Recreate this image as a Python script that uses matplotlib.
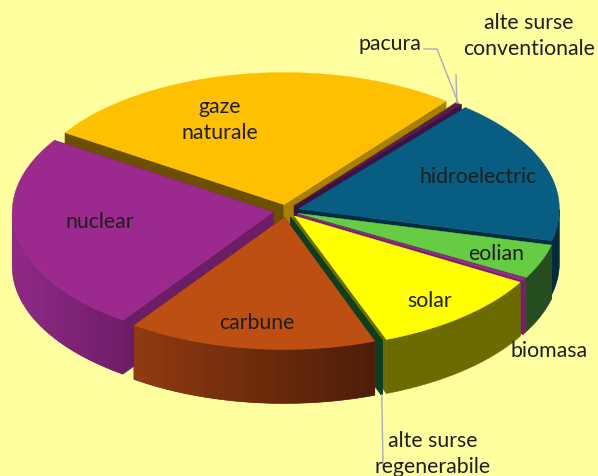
import numpy as np
import matplotlib
matplotlib.use("Agg")
import matplotlib.pyplot as plt
from matplotlib.collections import PolyCollection
from matplotlib.colors import to_rgb

# Slices in clockwise order, starting at the back-left edge of "gaze naturale"
categories = ["gaze naturale", "alte surse conventionale", "pacura", "hidroelectric", "eolian",
              "biomasa", "solar", "alte surse regenerabile", "carbune", "nuclear"]
shares = [26.5, 0.1, 0.3, 17.8, 4.2, 0.3, 10.9, 0.1, 15.4, 24.4]
top_colors = ["#FFC000", "#7A5C00", "#5A1A5C", "#075E82", "#66CC44",
              "#9C2A8E", "#FFFF00", "#0B3F24", "#BE4F12", "#9C2A8E"]
wall_left = ["#8A6800", "#5A4500", "#3E1240", "#002B40", "#264D1F",
             "#7A1F70", "#6B6B00", "#0B3F24", "#8F3A10", "#8E2A86"]
wall_right = ["#8A6800", "#5A4500", "#3E1240", "#002B40", "#264D1F",
              "#7A1F70", "#6B6B00", "#0B3F24", "#4F1E08", "#721D6A"]
radial_start = ["#6B5000", "#5A4500", "#3E1240", "#002B40", "#264D1F",
                "#7A1F70", "#6B6B00", "#0B3F24", "#5A2008", "#6B1D66"]
radial_end = ["#A88000", "#5A4500", "#3E1240", "#002B40", "#264D1F",
              "#7A1F70", "#6B6B00", "#0B3F24", "#5A2008", "#6B1D66"]
paint_order = [0, 1, 2, 3, 9, 4, 5, 6, 7, 8]

BG = "#FFFFA0"
CX, CY, RX, RY, DEPTH = 286.0, 212.0, 261.0, 132.0, 54.0
EX, EY = 13.0, 6.5
START = 147.0

fig = plt.figure(figsize=(5.98, 4.77), dpi=100, facecolor=BG)
ax = fig.add_axes([0, 0, 1, 1])
ax.set_xlim(0, 598)
ax.set_ylim(477, 0)
ax.axis("off")

angles = np.array(shares) / sum(shares) * 360.0
ends = START - np.cumsum(angles)
starts = ends + angles


def mix(a, b, t):
    a, b = np.array(to_rgb(a)), np.array(to_rgb(b))
    return tuple(a + (b - a) * t)


def slice_geom(i):
    mid = np.radians((starts[i] + ends[i]) / 2)
    ax0 = CX + EX * np.cos(mid)
    ay0 = CY - EY * np.sin(mid)
    th = np.radians(np.linspace(starts[i], ends[i], max(3, int(angles[i] * 4) + 2)))
    xs = ax0 + RX * np.cos(th)
    ys = ay0 - RY * np.sin(th)
    return ax0, ay0, xs, ys


z = 1
for i in paint_order:
    ax0, ay0, xs, ys = slice_geom(i)
    # radial walls
    for (ex, ey, col) in ((xs[0], ys[0], radial_start[i]), (xs[-1], ys[-1], radial_end[i])):
        ax.fill([ax0, ex, ex, ax0], [ay0, ey, ey + DEPTH, ay0 + DEPTH],
                color=col, lw=0.4, zorder=z)
    z += 1
    # outer wall: only the part of the rim that faces the viewer
    front = ys >= ay0
    if front.sum() >= 2:
        fx, fy = xs[front], ys[front]
        base = mix(wall_left[i], wall_right[i], 0.5)
        ax.fill(np.r_[fx, fx[::-1]], np.r_[fy, fy[::-1] + DEPTH], color=base, lw=0.4, zorder=z)
        z += 1
        if wall_left[i] != wall_right[i]:
            edges = np.linspace(fx.min(), fx.max(), 25)
            order = np.argsort(fx)
            sx, sy = fx[order], fy[order]
            verts, cols = [], []
            for k in range(len(edges) - 1):
                x0, x1 = edges[k], min(edges[k + 1] + 1.5, edges[-1])
                y0, y1 = np.interp([x0, x1], sx, sy)
                verts.append([(x0, y0), (x1, y1), (x1, y1 + DEPTH), (x0, y0 + DEPTH)])
                cols.append(mix(wall_left[i], wall_right[i], k / (len(edges) - 2)))
            ax.add_collection(PolyCollection(verts, facecolors=cols, edgecolors="none", zorder=z))
            z += 1
    # top face
    ax.fill(np.r_[ax0, xs], np.r_[ay0, ys], color=top_colors[i], lw=0.3, zorder=z)
    z += 1

# leader lines, anchored on the rim of their slices
LEADER = "#A9A9BC"
_, _, px, py = slice_geom(2)
_, _, qx, qy = slice_geom(1)
_, _, rx, ry = slice_geom(7)
ax.plot([424, 437, px[1]], [50, 50, py[1]], color=LEADER, lw=1, zorder=z)
ax.plot([456, qx[1]], [76, qy[1]], color=LEADER, lw=1, zorder=z)
ax.plot([rx[1], 383], [ry[1] + DEPTH, 466], color=LEADER, lw=1, zorder=z)

labels = [("gaze\nnaturale", 220, 120), ("nuclear", 100, 222), ("carbune", 257, 323),
          ("solar", 430, 301), ("eolian", 496, 254), ("hidroelectric", 478, 177),
          ("biomasa", 549, 351), ("alte surse\nregenerabile", 433, 454),
          ("pacura", 390, 44), ("alte surse\nconventionale", 529, 36)]
for txt, x, y in labels:
    ax.text(x, y, txt, ha="center", va="center", family="Lato", fontsize=15.3,
            color="#1E1E1E", linespacing=1.35, zorder=z + 1)

fig.savefig("out.png", dpi=100, facecolor=BG)
